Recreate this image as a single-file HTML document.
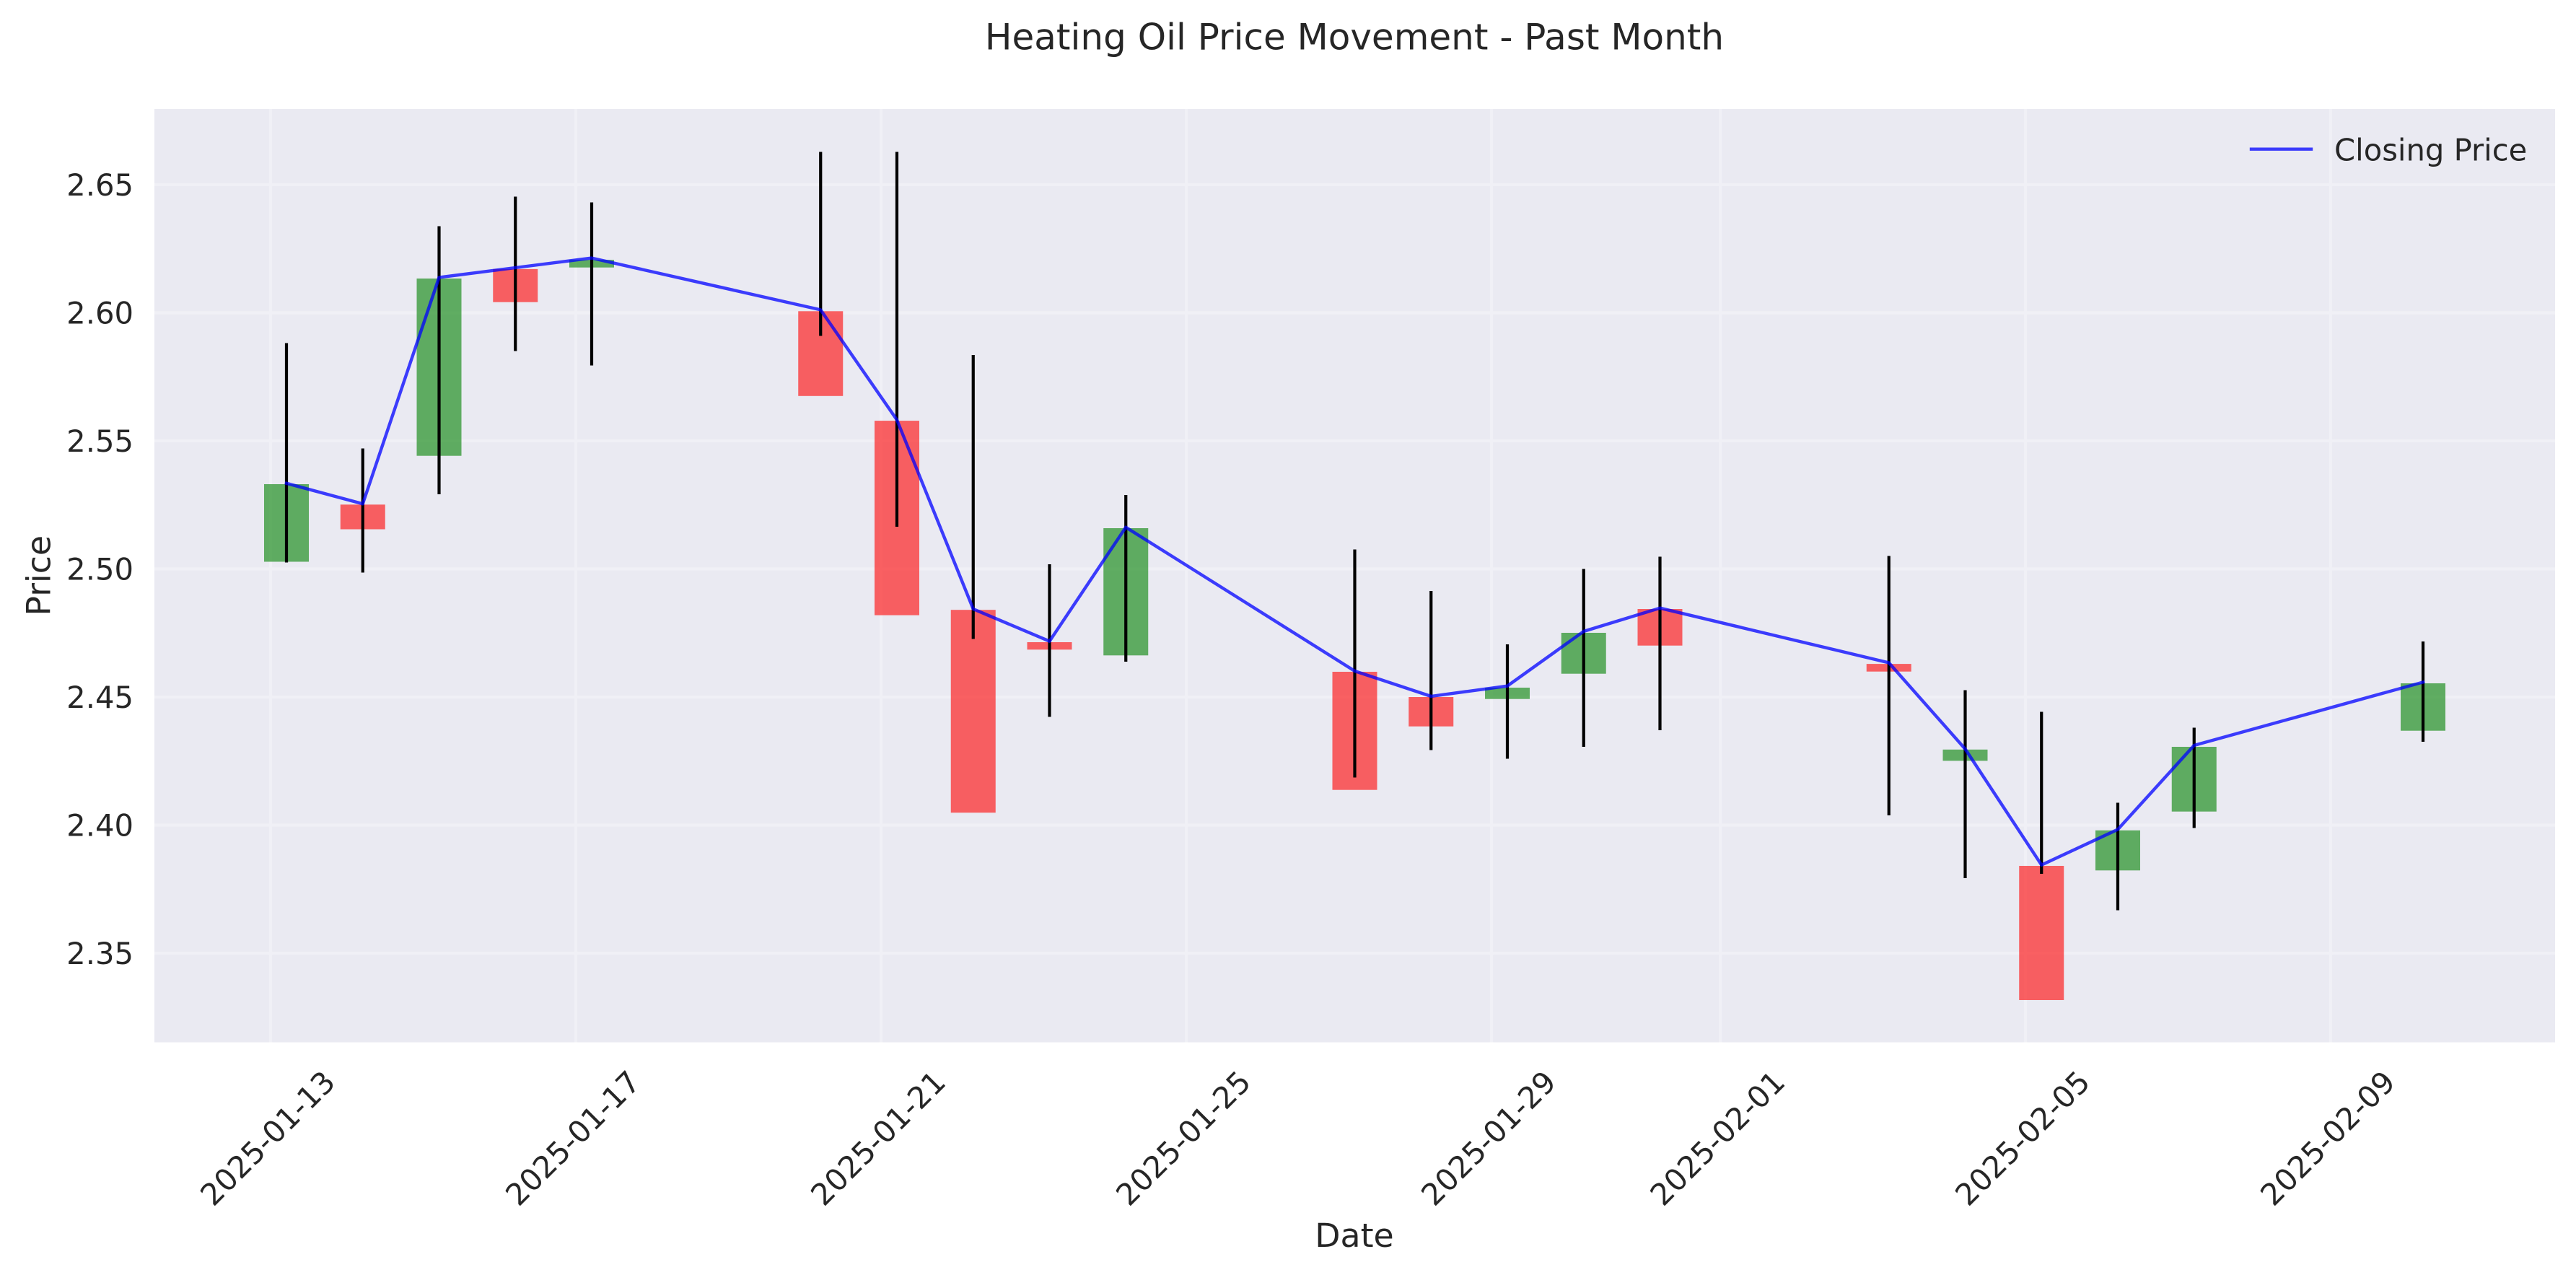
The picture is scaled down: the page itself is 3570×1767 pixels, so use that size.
<!DOCTYPE html>
<html>
<head>
<meta charset="utf-8">
<style>
  html, body { margin: 0; padding: 0; background: #ffffff; }
  svg { display: block; }
  text { font-family: "DejaVu Sans", "Liberation Sans", sans-serif; fill: #262626; }
</style>
</head>
<body>
<svg width="3570" height="1767" viewBox="0 0 3570 1767" xmlns="http://www.w3.org/2000/svg">
  <rect x="0" y="0" width="3570" height="1767" fill="#ffffff"/>
  <defs>
    <clipPath id="ax"><rect x="214" y="151" width="3327" height="1293.5"/></clipPath>
  </defs>
  <!-- axes background -->
  <rect x="214" y="151" width="3327" height="1293.5" fill="#EAEAF2"/>

  <!-- grid -->
  <g stroke="#F0F0F6" stroke-width="4.2" clip-path="url(#ax)">
    <line x1="214" x2="3541" y1="256" y2="256"/>
    <line x1="214" x2="3541" y1="433.5" y2="433.5"/>
    <line x1="214" x2="3541" y1="611" y2="611"/>
    <line x1="214" x2="3541" y1="788.5" y2="788.5"/>
    <line x1="214" x2="3541" y1="966" y2="966"/>
    <line x1="214" x2="3541" y1="1143.5" y2="1143.5"/>
    <line x1="214" x2="3541" y1="1321" y2="1321"/>
    <line y1="151" y2="1444.5" x1="375" x2="375"/>
    <line y1="151" y2="1444.5" x1="798" x2="798"/>
    <line y1="151" y2="1444.5" x1="1221" x2="1221"/>
    <line y1="151" y2="1444.5" x1="1644" x2="1644"/>
    <line y1="151" y2="1444.5" x1="2067" x2="2067"/>
    <line y1="151" y2="1444.5" x1="2384.25" x2="2384.25"/>
    <line y1="151" y2="1444.5" x1="2807" x2="2807"/>
    <line y1="151" y2="1444.5" x1="3230" x2="3230"/>
  </g>

  <g clip-path="url(#ax)">
    <!-- bodies -->
    <g fill-opacity="0.6">
      <rect x="366" y="671" width="62" height="107.5" fill="#008000"/>
      <rect x="471.75" y="699.3" width="62" height="34.2" fill="#ff0000"/>
      <rect x="577.5" y="386" width="62" height="245.7" fill="#008000"/>
      <rect x="683.25" y="372.9" width="62" height="45.8" fill="#ff0000"/>
      <rect x="789" y="360.1" width="62" height="10.6" fill="#008000"/>
      <rect x="1106.25" y="431.3" width="62" height="117.5" fill="#ff0000"/>
      <rect x="1212" y="583.1" width="62" height="269.5" fill="#ff0000"/>
      <rect x="1317.75" y="845.2" width="62" height="281.1" fill="#ff0000"/>
      <rect x="1423.5" y="890" width="62" height="10.3" fill="#ff0000"/>
      <rect x="1529.25" y="732" width="62" height="176.3" fill="#008000"/>
      <rect x="1846.5" y="931" width="62" height="163.7" fill="#ff0000"/>
      <rect x="1952.25" y="966" width="62" height="40.7" fill="#ff0000"/>
      <rect x="2058" y="953" width="62" height="15.7" fill="#008000"/>
      <rect x="2163.75" y="877" width="62" height="56.7" fill="#008000"/>
      <rect x="2269.5" y="844" width="62" height="50.7" fill="#ff0000"/>
      <rect x="2586.75" y="920.1" width="62" height="10.6" fill="#ff0000"/>
      <rect x="2692.5" y="1038.8" width="62" height="15.6" fill="#008000"/>
      <rect x="2798.25" y="1200" width="62" height="186" fill="#ff0000"/>
      <rect x="2904" y="1150.8" width="62" height="55.5" fill="#008000"/>
      <rect x="3009.75" y="1035" width="62" height="89.7" fill="#008000"/>
      <rect x="3327" y="947" width="62" height="65.7" fill="#008000"/>
    </g>

    <!-- wicks -->
    <g stroke="#000000" stroke-width="4.2">
      <line x1="397" x2="397" y1="475.5" y2="779.5"/>
      <line x1="502.75" x2="502.75" y1="621.5" y2="793.5"/>
      <line x1="608.5" x2="608.5" y1="313.5" y2="685"/>
      <line x1="714.25" x2="714.25" y1="272.5" y2="486.5"/>
      <line x1="820" x2="820" y1="280.5" y2="506.5"/>
      <line x1="1137.25" x2="1137.25" y1="210.5" y2="465.5"/>
      <line x1="1243" x2="1243" y1="210.5" y2="730"/>
      <line x1="1348.75" x2="1348.75" y1="492" y2="885.5"/>
      <line x1="1454.5" x2="1454.5" y1="782" y2="993.5"/>
      <line x1="1560.25" x2="1560.25" y1="686" y2="917"/>
      <line x1="1877.5" x2="1877.5" y1="761.5" y2="1077.5"/>
      <line x1="1983.25" x2="1983.25" y1="819" y2="1039.5"/>
      <line x1="2089" x2="2089" y1="893" y2="1051.5"/>
      <line x1="2194.75" x2="2194.75" y1="788.5" y2="1035"/>
      <line x1="2300.5" x2="2300.5" y1="771.5" y2="1012"/>
      <line x1="2617.75" x2="2617.75" y1="770.5" y2="1130"/>
      <line x1="2723.5" x2="2723.5" y1="956.5" y2="1217"/>
      <line x1="2829.25" x2="2829.25" y1="986.5" y2="1211"/>
      <line x1="2935" x2="2935" y1="1112.5" y2="1261.5"/>
      <line x1="3040.75" x2="3040.75" y1="1008.5" y2="1147.5"/>
      <line x1="3358" x2="3358" y1="889" y2="1028"/>
    </g>

    <!-- closing price line -->
    <polyline fill="none" stroke="#0000ff" stroke-opacity="0.75" stroke-width="4.4" stroke-linejoin="round" stroke-linecap="square"
      points="397,669.8 502.75,698.2 608.5,384.5 714.25,371 820,357.6 1137.25,429.4 1243,581.9 1348.75,844 1454.5,888.7 1560.25,730.7 1877.5,930 1983.25,965 2089,950.7 2194.75,875 2300.5,842.7 2617.75,918.5 2723.5,1038 2829.25,1198.7 2935,1149.5 3040.75,1033 3358,945.4"/>
  </g>

  <!-- legend -->
  <line x1="3120" x2="3203" y1="206.7" y2="206.7" stroke="#0000ff" stroke-opacity="0.75" stroke-width="4.4" stroke-linecap="square"/>
  <text x="3235" y="222.5" font-size="41.7">Closing Price</text>

  <!-- y tick labels -->
  <g font-size="41.7" text-anchor="end">
    <text x="185" y="271.2">2.65</text>
    <text x="185" y="448.7">2.60</text>
    <text x="185" y="626.2">2.55</text>
    <text x="185" y="803.7">2.50</text>
    <text x="185" y="981.2">2.45</text>
    <text x="185" y="1158.7">2.40</text>
    <text x="185" y="1336.2">2.35</text>
  </g>

  <!-- x tick labels -->
  <g font-size="41.7" text-anchor="middle">
    <text transform="translate(370.5,1577) rotate(-45)" x="0" y="15.2">2025-01-13</text>
    <text transform="translate(793.5,1577) rotate(-45)" x="0" y="15.2">2025-01-17</text>
    <text transform="translate(1216.5,1577) rotate(-45)" x="0" y="15.2">2025-01-21</text>
    <text transform="translate(1639.5,1577) rotate(-45)" x="0" y="15.2">2025-01-25</text>
    <text transform="translate(2062.5,1577) rotate(-45)" x="0" y="15.2">2025-01-29</text>
    <text transform="translate(2379.75,1577) rotate(-45)" x="0" y="15.2">2025-02-01</text>
    <text transform="translate(2802.5,1577) rotate(-45)" x="0" y="15.2">2025-02-05</text>
    <text transform="translate(3225.5,1577) rotate(-45)" x="0" y="15.2">2025-02-09</text>
  </g>

  <!-- axis labels -->
  <text x="1877" y="1728" font-size="45.8" text-anchor="middle">Date</text>
  <text transform="translate(69.5,797.75) rotate(-90)" x="0" y="0" font-size="45.8" text-anchor="middle">Price</text>

  <!-- title -->
  <text x="1877" y="68.3" font-size="50" text-anchor="middle">Heating Oil Price Movement - Past Month</text>
</svg>
</body>
</html>
